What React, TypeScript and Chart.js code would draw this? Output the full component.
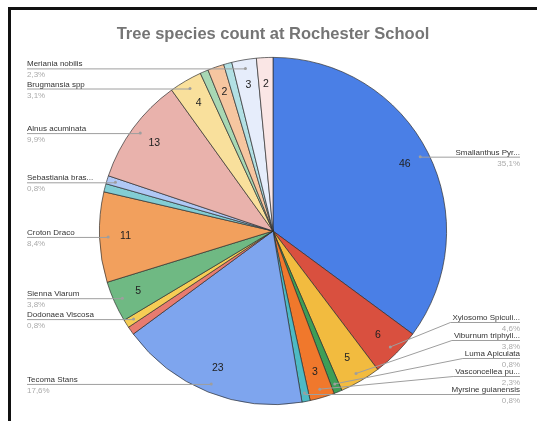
import React, { useEffect, useRef } from "react";
import { Chart, registerables } from "chart.js";
Chart.register(...registerables);

const TITLE = "Tree species count at Rochester School";

// Slices in clockwise order from 12 o'clock ("" = slice whose label is hidden)
const species = [
  "Smallanthus Pyr...",
  "Xylosomo Spiculi...",
  "Viburnum triphyll...",
  "Luma Apiculata",
  "Vasconcellea pu...",
  "Myrsine guianensis",
  "Tecoma Stans",
  "",
  "Dodonaea Viscosa",
  "Sienna Viarum",
  "Croton Draco",
  "",
  "Sebastiania bras...",
  "Alnus acuminata",
  "Brugmansia spp",
  "",
  "",
  "",
  "Meriania nobilis",
  "",
];

const counts = [46, 6, 5, 1, 3, 1, 23, 1, 1, 5, 11, 1, 1, 13, 4, 1, 2, 1, 3, 2];

const colors = [
  "#4a7fe6", "#d9503f", "#f2bb3f", "#3e9e57", "#f0782c", "#4dbac4",
  "#7ea5ee", "#e87b6f", "#f6cd55", "#6fb983", "#f2a05d", "#82cdd4",
  "#b0c8f5", "#e9b2ac", "#f9e09c", "#a8d8b4", "#f6c6a0", "#b2e0e4",
  "#e6edfb", "#fae6e5",
];

const W = 537;
const H = 421;

export default function App() {
  const ref = useRef<HTMLCanvasElement>(null);

  useEffect(() => {
    const canvas = ref.current as HTMLCanvasElement;
    const total = counts.reduce((a, b) => a + b, 0);
    const FONT = "'Liberation Sans', Arial, sans-serif";

    const labelPlugin = {
      id: "gLabels",
      afterDraw(chart: any) {
        const ctx = chart.ctx as CanvasRenderingContext2D;
        const meta = chart.getDatasetMeta(0);
        ctx.save();

        // frame (top and left edges of the screenshot box)
        ctx.fillStyle = "#111";
        ctx.fillRect(8, 7, W - 8, 3);
        ctx.fillRect(8, 7, 3, H - 7);

        // title
        ctx.font = `bold 16.5px ${FONT}`;
        ctx.fillStyle = "#757575";
        ctx.textAlign = "center";
        ctx.textBaseline = "alphabetic";
        ctx.fillText(TITLE, 273, 39);

        const left: any[] = [];
        const right: any[] = [];
        meta.data.forEach((arc: any, i: number) => {
          const p = arc.getProps(["x", "y", "startAngle", "endAngle", "outerRadius"], true);
          const mid = (p.startAngle + p.endAngle) / 2;
          const R = p.outerRadius;
          if (counts[i] >= 2) {
            ctx.font = `10.5px ${FONT}`;
            ctx.fillStyle = "#222";
            ctx.textAlign = "center";
            ctx.textBaseline = "middle";
            ctx.fillText(String(counts[i]), p.x + Math.cos(mid) * R * 0.85, p.y + Math.sin(mid) * R * 0.85);
          }
          if (species[i]) {
            const dx = p.x + Math.cos(mid) * R * 0.95;
            const dy = p.y + Math.sin(mid) * R * 0.95;
            const item = { i, dx, dy, ly: dy };
            (Math.cos(mid) >= 0 ? right : left).push(item);
          }
        });

        const GAP = 18;
        const MAXY = 394;
        const resolve = (arr: any[]) => {
          arr.sort((a, b) => a.dy - b.dy);
          let prev = -Infinity;
          for (const it of arr) {
            it.ly = Math.max(it.dy, prev + GAP);
            prev = it.ly;
          }
          let next = MAXY + GAP;
          for (let k = arr.length - 1; k >= 0; k--) {
            arr[k].ly = Math.min(arr[k].ly, next - GAP);
            next = arr[k].ly;
          }
        };
        resolve(left);
        resolve(right);

        const pct = (v: number) => ((v / total) * 100).toFixed(1).replace(".", ",") + "%";

        const drawItem = (it: any, side: "L" | "R") => {
          const name = species[it.i];
          ctx.font = `8px ${FONT}`;
          const tw = ctx.measureText(name).width;
          const xEdge = side === "L" ? 27 : 520;
          const xText = side === "L" ? 27 + tw + 2 : 520 - tw - 2;
          ctx.strokeStyle = "#9e9e9e";
          ctx.lineWidth = 1;
          ctx.beginPath();
          ctx.moveTo(xEdge, it.ly + 0.5);
          if (Math.abs(it.ly - it.dy) < 1.5) {
            ctx.lineTo(it.dx, it.ly + 0.5);
          } else {
            ctx.lineTo(xText, it.ly + 0.5);
            ctx.lineTo(it.dx, it.dy);
          }
          ctx.stroke();
          ctx.fillStyle = "#9e9e9e";
          ctx.beginPath();
          ctx.arc(it.dx, it.dy, 1.5, 0, Math.PI * 2);
          ctx.fill();

          ctx.textAlign = side === "L" ? "left" : "right";
          ctx.textBaseline = "alphabetic";
          ctx.fillStyle = "#333";
          ctx.fillText(name, xEdge, it.ly - 2);
          ctx.fillStyle = "#aaa";
          ctx.fillText(pct(counts[it.i]), xEdge, it.ly + 9);
        };
        left.forEach((it) => drawItem(it, "L"));
        right.forEach((it) => drawItem(it, "R"));
        ctx.restore();
      },
    };

    const chart = new Chart(canvas, {
      type: "pie",
      data: {
        labels: species,
        datasets: [
          {
            data: counts,
            backgroundColor: colors,
            borderColor: "rgba(45,45,45,0.85)",
            borderWidth: 0.8,
          },
        ],
      },
      options: {
        responsive: false,
        animation: false,
        layout: { padding: { top: 57, bottom: 16, left: 99, right: 90 } },
        plugins: {
          legend: { display: false },
          tooltip: { enabled: false },
          title: { display: false },
        },
      },
      plugins: [labelPlugin],
    } as any);

    return () => chart.destroy();
  }, []);

  return (
    <div style={{ position: "fixed", left: 0, top: 0, width: W, height: H, overflow: "hidden", background: "#fff" }}>
      <canvas ref={ref} width={W} height={H} style={{ display: "block", width: W, height: H }} />
    </div>
  );
}
